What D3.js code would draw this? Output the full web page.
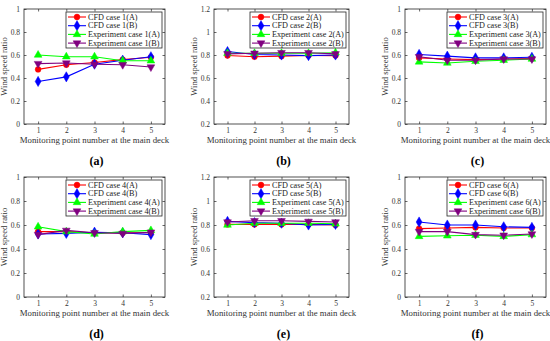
<!DOCTYPE html>
<html>
<head>
<meta charset="utf-8">
<script src="https://cdn.jsdelivr.net/npm/d3@7"></script>
<style>
  body { margin: 0; background: #fff; }
  svg { display: block; font-family: "Liberation Serif", "Times New Roman", serif; }
</style>
</head>
<body>
<svg id="chart" width="550" height="341"></svg>
<script>
// monitoring points along the main deck
const points = [1, 2, 3, 4, 5];

// case 1
const cfd1A = [0.475, 0.515, 0.535, 0.56, 0.58];
const cfd1B = [0.37, 0.41, 0.52, 0.555, 0.585];
const exp1A = [0.60, 0.585, 0.585, 0.55, 0.55];
const exp1B = [0.525, 0.53, 0.52, 0.515, 0.495];
// case 2
const cfd2A = [0.795, 0.785, 0.79, 0.795, 0.795];
const cfd2B = [0.83, 0.805, 0.80, 0.795, 0.80];
const exp2A = [0.815, 0.815, 0.815, 0.815, 0.82];
const exp2B = [0.81, 0.815, 0.82, 0.82, 0.81];
// case 3
const cfd3A = [0.575, 0.565, 0.56, 0.565, 0.57];
const cfd3B = [0.605, 0.59, 0.575, 0.575, 0.58];
const exp3A = [0.54, 0.53, 0.545, 0.555, 0.565];
const exp3B = [0.585, 0.555, 0.555, 0.565, 0.565];
// case 4
const cfd4A = [0.545, 0.545, 0.535, 0.535, 0.535];
const cfd4B = [0.525, 0.53, 0.54, 0.535, 0.52];
const exp4A = [0.585, 0.545, 0.525, 0.545, 0.555];
const exp4B = [0.52, 0.555, 0.535, 0.53, 0.54];
// case 5
const cfd5A = [0.805, 0.805, 0.805, 0.805, 0.80];
const cfd5B = [0.83, 0.82, 0.815, 0.80, 0.805];
const exp5A = [0.80, 0.815, 0.815, 0.815, 0.81];
const exp5B = [0.825, 0.835, 0.835, 0.83, 0.825];
// case 6
const cfd6A = [0.57, 0.575, 0.58, 0.575, 0.575];
const cfd6B = [0.625, 0.60, 0.60, 0.585, 0.58];
const exp6A = [0.505, 0.51, 0.515, 0.505, 0.52];
const exp6B = [0.545, 0.545, 0.52, 0.515, 0.525];

const ticksLow = [0, 0.2, 0.4, 0.6, 0.8, 1];
const ticksHigh = [0.2, 0.4, 0.6, 0.8, 1, 1.2];

const seriesStyle = [
  { name: "CFD case {n}(A)", color: "#ff0000", symbol: d3.symbolCircle, size: 26, rot: 0 },
  { name: "CFD case {n}(B)", color: "#0000ff", symbol: d3.symbolDiamond, size: 30, rot: 0 },
  { name: "Experiment case {n}(A)", color: "#00ff00", symbol: d3.symbolTriangle, size: 26, rot: 0 },
  { name: "Experiment case {n}(B)", color: "#800080", symbol: d3.symbolTriangle, size: 26, rot: 180 }
];

const panels = [
  { n: 1, tag: "(a)", data: [cfd1A, cfd1B, exp1A, exp1B], yTicks: ticksLow, x0: 24, x1: 165, y0: 9, y1: 124 },
  { n: 2, tag: "(b)", data: [cfd2A, cfd2B, exp2A, exp2B], yTicks: ticksHigh, x0: 214, x1: 349, y0: 9, y1: 124 },
  { n: 3, tag: "(c)", data: [cfd3A, cfd3B, exp3A, exp3B], yTicks: ticksLow, x0: 405, x1: 546, y0: 9, y1: 124 },
  { n: 4, tag: "(d)", data: [cfd4A, cfd4B, exp4A, exp4B], yTicks: ticksLow, x0: 24, x1: 165, y0: 177, y1: 297 },
  { n: 5, tag: "(e)", data: [cfd5A, cfd5B, exp5A, exp5B], yTicks: ticksHigh, x0: 214, x1: 349, y0: 177, y1: 297 },
  { n: 6, tag: "(f)", data: [cfd6A, cfd6B, exp6A, exp6B], yTicks: ticksLow, x0: 405, x1: 546, y0: 177, y1: 297 }
];

const svg = d3.select("#chart");

panels.forEach(p => drawPanel(p));

function drawPanel(p) {
  const g = svg.append("g");
  const x = d3.scaleLinear().domain([0.5, 5.5]).range([p.x0, p.x1]);
  const y = d3.scaleLinear().domain(d3.extent(p.yTicks)).range([p.y1, p.y0]);

  // box
  g.append("rect")
    .attr("x", p.x0).attr("y", p.y0)
    .attr("width", p.x1 - p.x0).attr("height", p.y1 - p.y0)
    .attr("fill", "#fff").attr("stroke", "#262626").attr("stroke-width", 0.8);

  // axes (ticks inward, matlab style)
  const xAxis = d3.axisBottom(x).tickValues(points).tickSize(-2.5).tickPadding(4).tickFormat(d3.format("d"));
  const yAxis = d3.axisLeft(y).tickValues(p.yTicks).tickSize(-2.5).tickPadding(4).tickFormat(d => d3.format("~g")(d));

  const xg = g.append("g").attr("transform", `translate(0,${p.y1})`).call(xAxis);
  const yg = g.append("g").attr("transform", `translate(${p.x0},0)`).call(yAxis);
  [xg, yg].forEach(a => {
    a.select(".domain").remove();
    a.selectAll("line").attr("stroke", "#262626").attr("stroke-width", 0.7);
    a.selectAll("text").attr("fill", "#333").style("font-size", "7.5px").style("font-family", "Liberation Serif");
  });

  // mirrored ticks on top and right
  g.append("g").attr("transform", `translate(0,${p.y0})`)
    .call(d3.axisTop(x).tickValues(points).tickSize(-2.5).tickFormat(""))
    .call(a => a.select(".domain").remove())
    .selectAll("line").attr("stroke", "#262626").attr("stroke-width", 0.7);
  g.append("g").attr("transform", `translate(${p.x1},0)`)
    .call(d3.axisRight(y).tickValues(p.yTicks).tickSize(-2.5).tickFormat(""))
    .call(a => a.select(".domain").remove())
    .selectAll("line").attr("stroke", "#262626").attr("stroke-width", 0.7);

  // axis labels
  g.append("text")
    .attr("x", (p.x0 + p.x1) / 2).attr("y", p.y1 + 19)
    .attr("text-anchor", "middle").attr("fill", "#333")
    .style("font-size", "8.8px")
    .text("Monitoring point number at the main deck");
  g.append("text")
    .attr("transform", `translate(${p.x0 - 17},${(p.y0 + p.y1) / 2}) rotate(-90)`)
    .attr("text-anchor", "middle").attr("fill", "#333")
    .style("font-size", "8.6px")
    .text("Wind speed ratio");

  // panel tag
  g.append("text")
    .attr("x", (p.x0 + p.x1) / 2 + 2).attr("y", p.y1 + 41)
    .attr("text-anchor", "middle").attr("fill", "#000")
    .style("font-size", "12px").style("font-weight", "bold")
    .text(p.tag);

  const line = d3.line().x((d, i) => x(points[i])).y(d => y(d));

  p.data.forEach((vals, k) => {
    const s = seriesStyle[k];
    g.append("path").datum(vals)
      .attr("d", line).attr("fill", "none")
      .attr("stroke", s.color).attr("stroke-width", 1.1);
    g.selectAll(null).data(vals).join("path")
      .attr("d", d3.symbol(s.symbol, s.size))
      .attr("transform", (d, i) => `translate(${x(points[i])},${y(d)}) rotate(${s.rot})`)
      .attr("fill", s.color).attr("stroke", s.color).attr("stroke-width", 0.5);
  });

  // legend
  const lw = 96, lh = 36;
  const lx = p.x1 - 3 - lw, ly = p.y0 + 3;
  const lg = g.append("g").attr("transform", `translate(${lx},${ly})`);
  lg.append("rect").attr("width", lw).attr("height", lh)
    .attr("fill", "#fff").attr("stroke", "#262626").attr("stroke-width", 0.8);
  seriesStyle.forEach((s, k) => {
    const yy = 5 + k * 8.7;
    lg.append("line").attr("x1", 2).attr("x2", 20).attr("y1", yy).attr("y2", yy)
      .attr("stroke", s.color).attr("stroke-width", 1.1);
    lg.append("path").attr("d", d3.symbol(s.symbol, s.size))
      .attr("transform", `translate(11,${yy}) rotate(${s.rot})`)
      .attr("fill", s.color).attr("stroke", s.color).attr("stroke-width", 0.5);
    lg.append("text").attr("x", 22).attr("y", yy).attr("dy", "0.33em")
      .attr("fill", "#222").style("font-size", "8.2px")
      .text(s.name.replace("{n}", p.n));
  });
}
</script>
</body>
</html>
